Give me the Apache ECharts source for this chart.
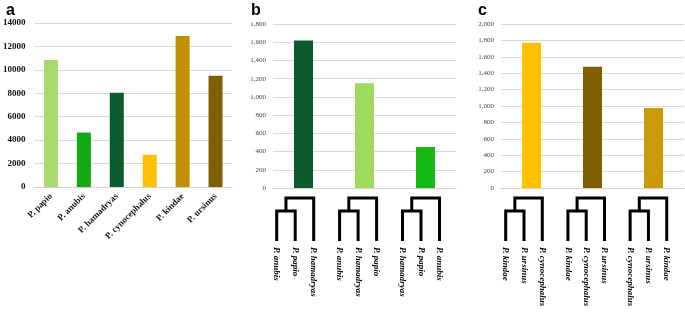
<!DOCTYPE html>
<html>
<head>
<meta charset="utf-8">
<script src="https://cdn.jsdelivr.net/npm/echarts@6/dist/echarts.min.js"></script>
<style>
  html, body { margin: 0; padding: 0; background: #fff; }
  #chart { width: 685px; height: 312px; }
</style>
</head>
<body>
<div id="chart"></div>
<script>
// panel a
const speciesA = ['P. papio', 'P. anubis', 'P. hamadryas', 'P. cynocephalus', 'P. kindae', 'P. ursinus']
const valuesA = [10850, 4650, 8050, 2750, 12900, 9500]
// panel b
const valuesB = [1620, 1150, 450]
const treesB = [
  ['P. anubis', 'P. papio', 'P. hamadryas'],
  ['P. anubis', 'P. hamadryas', 'P. papio'],
  ['P. hamadryas', 'P. papio', 'P. anubis'],
]
// panel c
const valuesC = [1770, 1480, 975]
const treesC = [
  ['P. kindae', 'P. ursinus', 'P. cynocephalus'],
  ['P. kindae', 'P. cynocephalus', 'P. ursinus'],
  ['P. cynocephalus', 'P. ursinus', 'P. kindae'],
]
// dendrogram node heights: inner pair, root
const nodeHeights = [7, 10]

const colorsA = ['#a9d96f', '#13a913', '#0b5c2c', '#ffc000', '#c09000', '#7f6000']
const colorsB = ['#0b5a2a', '#9edb5c', '#15b815']
const colorsC = ['#ffc000', '#7f6000', '#cb9b07']

const TREE_GAP = 3.4
const chart = echarts.init(document.getElementById('chart'))

const comma = v => String(v).replace(/\B(?=(\d{3})+(?!\d))/g, ',')

function barSeries(values, colors, idx, width) {
  return {
    type: 'bar',
    xAxisIndex: idx,
    yAxisIndex: idx,
    barWidth: width,
    data: values.map((v, i) => ({ value: v, itemStyle: { color: colors[i] } })),
  }
}

function treeSeries(trees, idx) {
  return {
    type: 'custom',
    xAxisIndex: idx,
    yAxisIndex: idx,
    clip: false,
    data: trees.map((t, i) => [i]),
    renderItem(params, api) {
      const t = api.value(0)
      const names = trees[t]
      const x = [0, 1, 2].map(k => t * TREE_GAP + k)
      const [hIn, hRoot] = nodeHeights
      const mid = (x[0] + x[1]) / 2
      const p = (a, b) => api.coord([a, b])
      const line = { stroke: '#000', lineWidth: 3, fill: null, lineJoin: 'miter' }
      const children = [
        { type: 'polyline', shape: { points: [p(x[0], 0), p(x[0], hIn), p(x[1], hIn), p(x[1], 0)] }, style: line },
        { type: 'polyline', shape: { points: [p(mid, hIn), p(mid, hRoot), p(x[2], hRoot), p(x[2], 0)] }, style: line },
      ]
      names.forEach((n, k) => {
        const q = p(x[k], 0)
        children.push({
          type: 'text',
          x: q[0],
          y: q[1] + 6,
          rotation: -Math.PI / 2,
          style: {
            text: n,
            font: 'italic bold 9px "Liberation Serif"',
            fill: '#000',
            align: 'left',
            verticalAlign: 'middle',
          },
        })
      })
      return { type: 'group', children }
    },
  }
}

const splitLine = { show: true, lineStyle: { color: '#d9d9d9', width: 1 } }
const smallLabel = { fontFamily: 'Liberation Serif', fontSize: 7, color: '#444', margin: 7, formatter: comma }

const option = {
  animation: false,
  backgroundColor: '#fff',
  title: [
    { text: 'a', left: 1, top: -2, textStyle: { fontFamily: 'Liberation Sans', fontWeight: 'bold', fontSize: 16, color: '#000' } },
    { text: 'b', left: 246, top: -2, textStyle: { fontFamily: 'Liberation Sans', fontWeight: 'bold', fontSize: 16, color: '#000' } },
    { text: 'c', left: 473, top: -2, textStyle: { fontFamily: 'Liberation Sans', fontWeight: 'bold', fontSize: 16, color: '#000' } },
  ],
  grid: [
    { left: 32, top: 23, width: 200, height: 164 },
    { left: 273, top: 24, width: 183, height: 164 },
    { left: 501, top: 24, width: 183, height: 164 },
    { left: 276.7, top: 198, width: 8.8 * 18.5, height: 43 },
    { left: 505.7, top: 198, width: 8.8 * 18.3, height: 43 },
  ],
  xAxis: [
    {
      gridIndex: 0, type: 'category', data: speciesA,
      axisTick: { show: false },
      axisLine: { lineStyle: { color: '#d0d0d0' } },
      axisLabel: { interval: 0, rotate: 45, margin: 8, fontFamily: 'Liberation Serif', fontWeight: 'bold', fontSize: 9, color: '#111' },
    },
    { gridIndex: 1, type: 'category', data: ['1', '2', '3'], axisTick: { show: false }, axisLabel: { show: false }, axisLine: { lineStyle: { color: '#d0d0d0' } } },
    { gridIndex: 2, type: 'category', data: ['1', '2', '3'], axisTick: { show: false }, axisLabel: { show: false }, axisLine: { lineStyle: { color: '#d0d0d0' } } },
    { gridIndex: 3, type: 'value', min: 0, max: 2 * TREE_GAP + 2, show: false },
    { gridIndex: 4, type: 'value', min: 0, max: 2 * TREE_GAP + 2, show: false },
  ],
  yAxis: [
    {
      gridIndex: 0, type: 'value', min: 0, max: 14000, interval: 2000,
      splitLine, axisLine: { show: false }, axisTick: { show: false },
      axisLabel: { fontFamily: 'Liberation Serif', fontWeight: 'bold', fontSize: 9, color: '#111', margin: 9, formatter: v => String(v) },
    },
    { gridIndex: 1, type: 'value', min: 0, max: 1800, interval: 200, splitLine, axisLine: { show: false }, axisTick: { show: false }, axisLabel: smallLabel },
    { gridIndex: 2, type: 'value', min: 0, max: 2000, interval: 200, splitLine, axisLine: { show: false }, axisTick: { show: false }, axisLabel: smallLabel },
    { gridIndex: 3, type: 'value', min: 0, max: nodeHeights[1], show: false },
    { gridIndex: 4, type: 'value', min: 0, max: nodeHeights[1], show: false },
  ],
  series: [
    barSeries(valuesA, colorsA, 0, 14),
    barSeries(valuesB, colorsB, 1, 19),
    barSeries(valuesC, colorsC, 2, 19),
    treeSeries(treesB, 3),
    treeSeries(treesC, 4),
  ],
}

chart.setOption(option)
</script>
</body>
</html>
